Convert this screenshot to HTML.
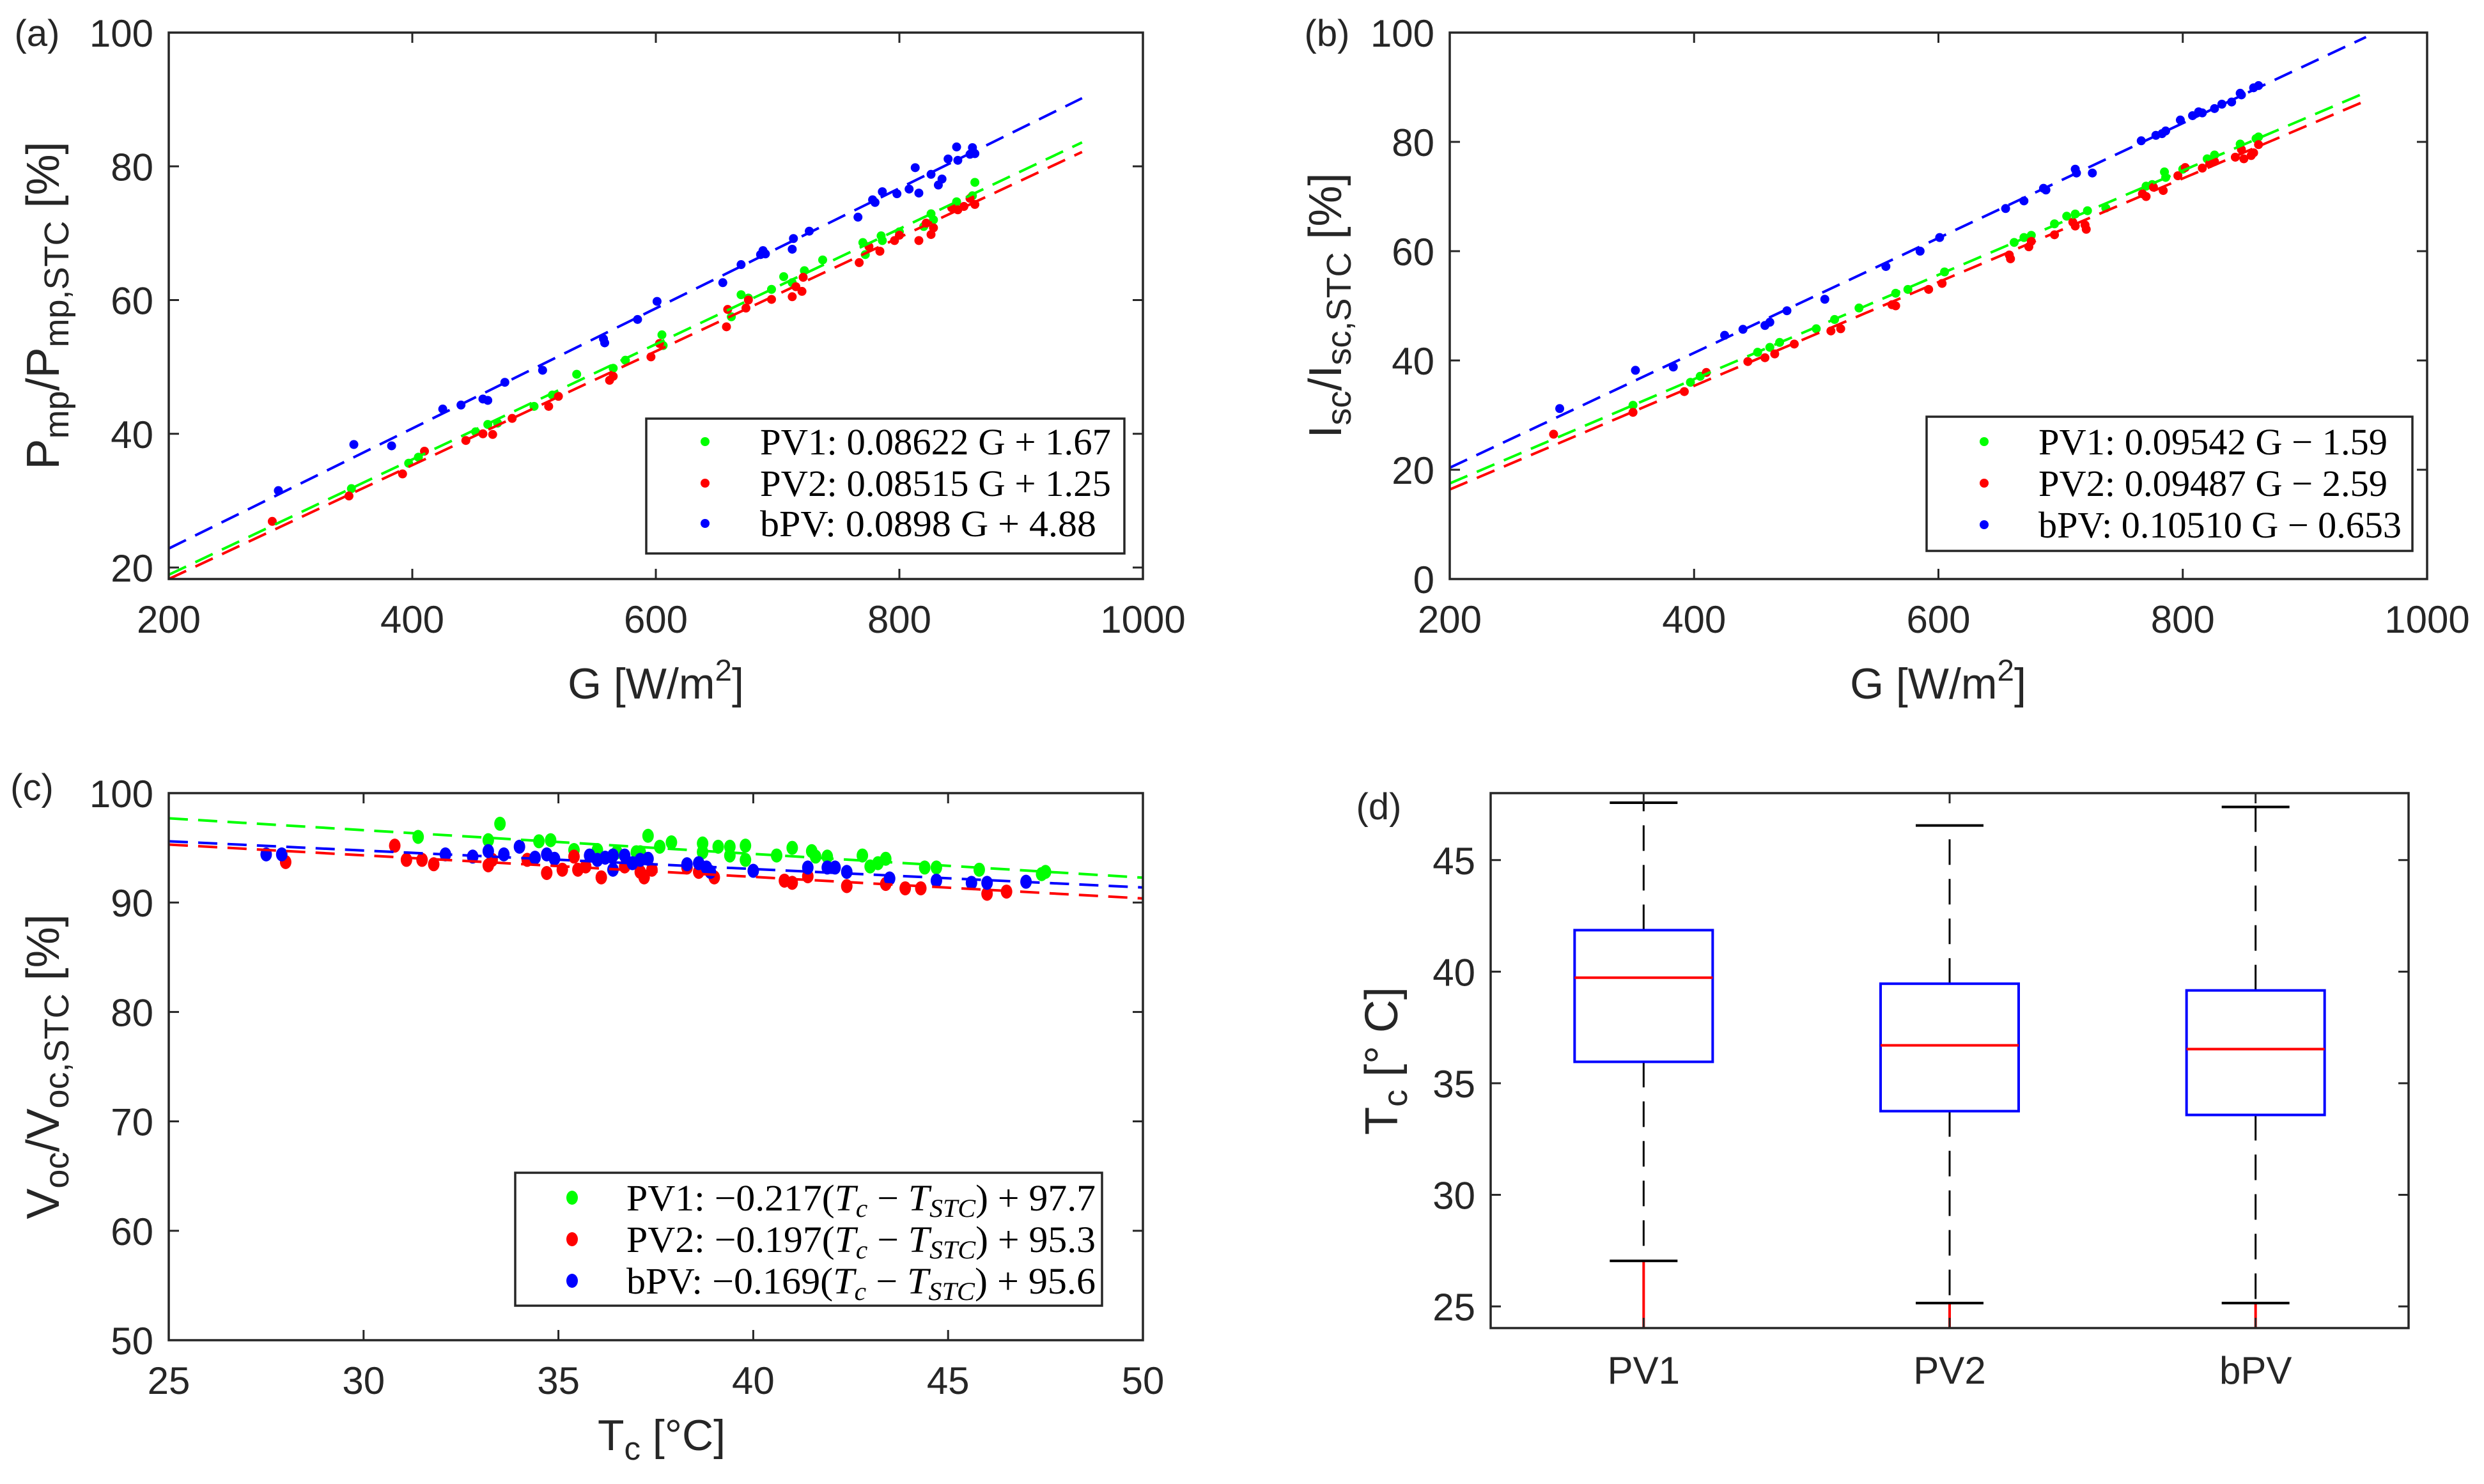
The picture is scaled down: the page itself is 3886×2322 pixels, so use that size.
<!DOCTYPE html>
<html><head><meta charset="utf-8"><style>
html,body{margin:0;padding:0;background:#fff;}
svg{display:block;}
text{font-family:"Liberation Sans",sans-serif;fill:#262626;}
.lg{font-family:"Liberation Serif",serif;fill:#000;}
</style></head><body>
<svg id="fig" width="3886" height="2322" viewBox="0 0 3886 2322" xmlns="http://www.w3.org/2000/svg">
<defs>
<clipPath id="clipA"><rect x="264" y="51" width="1524" height="855"/></clipPath>
<clipPath id="clipB"><rect x="2268" y="51" width="1529" height="855"/></clipPath>
<clipPath id="clipC"><rect x="264" y="1241" width="1524" height="856"/></clipPath>
</defs>
</svg>
<script>
// ---- Panel (a) data ----
const aG1=[350,397,405,452,462,470,500,515,535,565,575,605,606,662,670,676,695,705,712,722,737,770,772,785,786,800,820,826,828,847,860,862];
const aV1=[31.8,35.6,36.5,40.3,41.4,41.6,44.1,45.8,48.9,49.8,51.0,54.8,53.2,57.5,60.8,60.3,61.6,63.5,62.6,64.4,66.0,68.6,66.8,69.6,68.9,70.2,71.0,72.9,72.0,74.7,75.6,77.6];
const aG2=[285,348,392,410,444,458,466,482,512,520,562,565,596,603,658,659,674,676,695,712,715,720,721,767,775,784,796,800,816,822,826,828,843,848,853,858,862];
const aV2=[26.9,30.7,34.0,37.4,39.0,40.0,39.9,42.3,44.1,45.6,48.0,48.6,51.5,53.5,56.0,58.6,58.8,60.0,60.1,60.5,62.0,61.3,63.4,65.6,68.0,67.3,68.9,69.7,68.9,71.5,69.8,70.8,73.8,73.5,74.0,75.2,74.3];
const aG3=[290,352,383,425,440,458,462,476,507,557,558,585,601,655,670,686,688,690,712,713,726,766,778,780,786,798,808,813,816,826,832,835,840,847,848,858,860,862];
const aV3=[31.5,38.4,38.2,43.7,44.3,45.2,45.0,47.7,49.5,54.2,53.6,57.1,59.8,62.6,65.3,66.8,67.4,66.9,67.6,69.2,70.3,72.4,75.0,74.6,76.2,75.9,76.6,79.8,76.0,78.8,77.2,78.1,81.1,82.9,80.9,81.8,82.8,81.9];
const aSlope=[0.08622,0.08515,0.0898];
const aInt=[1.67,1.25,4.88];
const aLegend=["PV1: 0.08622 G + 1.67","PV2: 0.08515 G + 1.25","bPV: 0.0898 G + 4.88"];
const aXTicks=[200,400,600,800,1000];
const aYTicks=[20,40,60,80,100];
// ---- Panel (b) data ----
const bG1=[350,397,405,452,462,470,500,515,535,565,575,605,662,670,676,695,705,712,722,737,770,775,785,786,800,820,826,847,860,862];
const bV1=[31.8,36.0,37.1,41.5,42.4,43.3,45.8,47.5,49.6,52.3,53.0,56.2,61.6,62.5,62.9,65.0,66.4,66.8,67.4,67.9,71.9,72.2,74.5,73.5,75.0,76.9,77.6,79.6,80.6,80.9];
const bG2=[285,350,392,410,444,458,466,482,512,520,562,565,592,603,658,659,674,676,695,710,712,720,721,767,770,776,784,796,802,816,822,826,843,848,850,856,858,862];
const bV2=[26.5,30.5,34.3,37.8,39.8,40.5,41.2,43.0,45.4,45.8,50.2,50.0,53.0,54.1,59.3,58.6,60.8,61.8,63.0,65.3,64.6,64.8,64.0,70.5,70.0,71.7,71.1,73.8,75.3,75.2,76.0,76.4,77.2,78.6,76.9,77.5,78.0,79.5];
const bG3=[290,352,383,425,440,458,462,476,507,557,585,601,655,670,686,688,712,713,726,766,778,783,786,798,808,813,816,826,832,840,847,848,858,862];
const bV3=[31.2,38.2,38.8,44.6,45.7,46.4,47.0,49.1,51.2,57.2,60.0,62.5,67.8,69.2,71.5,71.2,75.0,74.3,74.3,80.2,81.2,81.5,82.0,84.0,84.8,85.5,85.3,86.1,86.9,87.3,88.9,88.6,89.9,90.3];
const bSlope=[0.09542,0.09487,0.10510];
const bInt=[-1.59,-2.59,-0.653];
const bLegend=["PV1: 0.09542 G \u2212 1.59","PV2: 0.09487 G \u2212 2.59","bPV: 0.10510 G \u2212 0.653"];
const bYTicks=[0,20,40,60,80,100];
// ---- Panel (c) data ----
const cT1=[31.4,33.2,33.5,34.5,34.8,35.4,36.0,36.5,37.0,37.1,37.3,37.6,37.9,38.7,38.7,39.1,39.4,39.4,39.8,39.8,40.6,41.0,41.5,41.6,41.9,42.8,43.0,43.2,43.4,44.4,44.7,45.8,47.4,47.5];
const cV1=[96.0,95.7,97.2,95.6,95.7,94.8,94.8,94.6,94.6,94.6,96.1,95.1,95.5,95.4,94.6,95.1,95.1,94.3,95.2,93.9,94.3,95.0,94.7,94.2,94.2,94.3,93.3,93.6,94.0,93.2,93.2,93.0,92.6,92.8];
const cT2=[28.0,30.8,31.1,31.5,31.8,33.2,33.3,34.2,34.7,35.1,35.4,35.5,35.7,36.1,36.7,37.1,37.2,37.4,38.3,38.6,39.0,40.8,41.0,41.4,42.4,43.4,43.9,44.3,46.0,46.5];
const cV2=[93.7,95.2,93.9,93.9,93.5,93.4,93.9,93.9,92.7,93.0,94.2,93.0,93.3,92.3,93.3,92.8,92.3,93.0,93.2,92.8,92.3,92.0,91.8,92.4,91.5,91.7,91.3,91.3,90.8,91.0];
const cT3=[27.5,27.9,32.1,32.8,33.2,33.6,34.0,34.4,34.7,34.9,35.8,36.0,36.2,36.4,36.4,36.7,36.9,37.1,37.3,38.3,38.6,38.8,38.9,40.0,41.4,41.9,42.1,42.4,43.5,44.7,45.6,46.0,47.0];
const cV3=[94.4,94.4,94.4,94.2,94.7,94.4,95.1,94.1,94.4,94.0,94.3,93.9,94.1,94.3,93.0,94.3,93.6,93.9,94.0,93.5,93.6,93.2,92.8,92.9,93.2,93.2,93.2,92.8,92.2,92.0,91.8,91.8,91.9];
const cSlope=[-0.217,-0.197,-0.169];
const cInt=[97.7,95.3,95.6];
const cLabels=["PV1:","PV2:","bPV:"];
const cCoef=["\u22120.217","\u22120.197","\u22120.169"];
const cConst=["97.7","95.3","95.6"];
const cXTicks=[25,30,35,40,45,50];
const cYTicks=[50,60,70,80,90,100];
// ---- Panel (d) data ----
const dCats=["PV1","PV2","bPV"];
const dQ1=[35.96,33.75,33.58];
const dMed=[39.73,36.70,36.53];
const dQ3=[41.86,39.46,39.16];
const dUpper=[47.57,46.55,47.38];
const dLower=[27.04,25.15,25.15];
const dYTicks=[25,30,35,40,45];

const svg=document.getElementById('fig');
const NS='http://www.w3.org/2000/svg';
function mk(tag,attrs,parent){const e=document.createElementNS(NS,tag);for(const k in attrs)e.setAttribute(k,attrs[k]);(parent||svg).appendChild(e);return e;}
const COLS=['#00ff00','#ff0000','#0000ff'];
const AX='#262626';

function axisBox(g,L,R,T,B){
  const r=mk('rect',{x:L,y:T,width:R-L,height:B-T,fill:'none',stroke:AX,'stroke-width':3.5},g);
  
  
}
function xTicks(g,ticks,sx,T,B){
  ticks.forEach(t=>{
    const x=sx(t);
    const l1=mk('line',{x1:x,x2:x,y1:B,y2:B-16,stroke:AX,'stroke-width':3},g);
    
    
    const l2=mk('line',{x1:x,x2:x,y1:T,y2:T+16,stroke:AX,'stroke-width':3},g);
    
    
    const tx=mk('text',{x:x,y:B+84,'text-anchor':'middle','font-size':60},g);
    tx.textContent=String(t);
    
    
  });
}
function yTicks(g,ticks,sy,L,R){
  ticks.forEach(t=>{
    const y=sy(t);
    const l1=mk('line',{x1:L,x2:L+16,y1:y,y2:y,stroke:AX,'stroke-width':3},g);
    
    
    const l2=mk('line',{x1:R,x2:R-16,y1:y,y2:y,stroke:AX,'stroke-width':3},g);
    
    
    const tx=mk('text',{x:L-24,y:y+22,'text-anchor':'end','font-size':60},g);
    tx.textContent=String(t);
    
    
  });
}
function dots(g,xs,ys,sx,sy,color,rx,ry,name){
  xs.forEach((v,i)=>{
    const c=mk('ellipse',{cx:sx(v),cy:sy(ys[i]),rx:rx,ry:ry,fill:color},g);
    
    
  });
}
function fitLine(g,x0,x1,f,sx,sy,color,clip,name){
  const l=mk('line',{x1:sx(x0),y1:sy(f(x0)),x2:sx(x1),y2:sy(f(x1)),stroke:color,'stroke-width':4,'stroke-dasharray':'30 16','clip-path':'url(#'+clip+')'},g);
  
  
}
function label(g,x,y,txt,name,size,rot){
  const t=mk('text',{x:x,y:y,'text-anchor':'middle','font-size':size||64},g);
  if(rot)t.setAttribute('transform','rotate(-90 '+x+' '+y+')');
  if(txt)t.textContent=txt;
  
  
  return t;
}
function sub(t,main,s,after){
  t.appendChild(document.createTextNode(main));
  const ts=mk('tspan',{'font-size':'0.75em',dy:15},t);ts.textContent=s;
  const ts2=mk('tspan',{dy:-15},t);ts2.textContent=after;
  return ts2;
}
function legendBox(g,x,y,w,h){
  const r=mk('rect',{x:x,y:y,width:w,height:h,fill:'#fff',stroke:AX,'stroke-width':3.5},g);
  
  
}

// ===== Panel (a) =====
(function(){
  const L=264,R=1788,T=51,B=906;
  const sx=v=>L+(v-200)/800*(R-L);
  const sy=v=>888-(v-20)/80*(888-51);
  const g=mk('g',{});
  const pG=[aG1,aG2,aG3],pV=[aV1,aV2,aV3];
  for(let s=0;s<3;s++) dots(g,pG[s],pV[s],sx,sy,COLS[s],7,7,'point-series-'+(s+1));
  for(let s=0;s<3;s++) fitLine(g,200,950,x=>aSlope[s]*x+aInt[s],sx,sy,COLS[s],'clipA','fit-line-'+(s+1));
  axisBox(g,L,R,T,B);
  xTicks(g,aXTicks,sx,T,B);yTicks(g,aYTicks,sy,L,R);
  legendBox(g,1011,655,748,211);
  const ly=[691,756,819];
  for(let s=0;s<3;s++){
    const c=mk('ellipse',{cx:1103,cy:ly[s],rx:7,ry:7,fill:COLS[s]},g);
    
    const t=mk('text',{x:1189,y:ly[s]+20,'font-size':58,class:'lg',textLength:s==2?526:549,lengthAdjust:'spacingAndGlyphs'},g);
    t.textContent=aLegend[s];
    
  }
  const xl=label(g,1026,1093,'','x-axis-title',68);
  xl.appendChild(document.createTextNode('G [W/m'));
  const sp=mk('tspan',{'font-size':'0.7em',dy:-28},xl);sp.textContent='2';
  const sp2=mk('tspan',{dy:28},xl);sp2.textContent=']';
  const yl=label(g,92,478,'','y-axis-title',72,true);
  sub(yl,'P','mp','/P');
  const ts=mk('tspan',{'font-size':'0.75em',dy:15},yl);ts.textContent='mp,STC';
  const ts2=mk('tspan',{dy:-15},yl);ts2.textContent=' [%]';
  label(g,58,72,'(a)','panel-label-a',58);
})();

// ===== Panel (b) =====
(function(){
  const L=2268,R=3797,T=51,B=906;
  const sx=v=>L+(v-200)/800*(R-L);
  const sy=v=>B-v/100*(B-T);
  const g=mk('g',{});
  const pG=[bG1,bG2,bG3],pV=[bV1,bV2,bV3];
  for(let s=0;s<3;s++) dots(g,pG[s],pV[s],sx,sy,COLS[s],7,7,'point-series-'+(s+1));
  for(let s=0;s<3;s++) fitLine(g,200,950,x=>bSlope[s]*x+bInt[s],sx,sy,COLS[s],'clipB','fit-line-'+(s+1));
  axisBox(g,L,R,T,B);
  xTicks(g,aXTicks,sx,T,B);yTicks(g,bYTicks,sy,L,R);
  legendBox(g,3014,652,760,210);
  const ly=[691,756,821];
  for(let s=0;s<3;s++){
    const c=mk('ellipse',{cx:3104,cy:ly[s],rx:7,ry:7,fill:COLS[s]},g);
    
    const t=mk('text',{x:3189,y:ly[s]+20,'font-size':58,class:'lg',textLength:s==2?568:546,lengthAdjust:'spacingAndGlyphs'},g);
    t.textContent=bLegend[s];
    
  }
  const xl=label(g,3032,1093,'','x-axis-title',68);
  xl.appendChild(document.createTextNode('G [W/m'));
  const sp=mk('tspan',{'font-size':'0.7em',dy:-28},xl);sp.textContent='2';
  const sp2=mk('tspan',{dy:28},xl);sp2.textContent=']';
  const yl=label(g,2098,478,'','y-axis-title',72,true);
  sub(yl,'I','sc','/I');
  const ts=mk('tspan',{'font-size':'0.75em',dy:15},yl);ts.textContent='sc,STC';
  const ts2=mk('tspan',{dy:-15},yl);ts2.textContent=' [%]';
  label(g,2076,72,'(b)','panel-label-b',58);
})();

// ===== Panel (c) =====
(function(){
  const L=264,R=1788,T=1241,B=2097;
  const sx=v=>L+(v-25)/25*(R-L);
  const sy=v=>B-(v-50)/50*(B-T);
  const g=mk('g',{});
  const pT=[cT1,cT2,cT3],pV=[cV1,cV2,cV3];
  for(let s=0;s<3;s++) dots(g,pT[s],pV[s],sx,sy,COLS[s],9,11,'point-series-'+(s+1));
  for(let s=0;s<3;s++) fitLine(g,25,50,x=>cSlope[s]*(x-25)+cInt[s],sx,sy,COLS[s],'clipC','fit-line-'+(s+1));
  axisBox(g,L,R,T,B);
  xTicks(g,cXTicks,sx,T,B);yTicks(g,cYTicks,sy,L,R);
  legendBox(g,806,1835,918,208);
  const ly=[1874,1939,2004];
  for(let s=0;s<3;s++){
    const c=mk('ellipse',{cx:895,cy:ly[s],rx:9,ry:11,fill:COLS[s]},g);
    
    const t=mk('text',{x:980,y:ly[s]+20,'font-size':58,class:'lg',textLength:734,lengthAdjust:'spacingAndGlyphs'},g);
    
    t.appendChild(document.createTextNode(cLabels[s]+' '+cCoef[s]+'('));
    const a=mk('tspan',{'font-style':'italic'},t);a.textContent='T';
    const b=mk('tspan',{'font-style':'italic','font-size':'0.7em',dy:10},t);b.textContent='c';
    const c2=mk('tspan',{dy:-10},t);c2.textContent=' \u2212 ';
    const d=mk('tspan',{'font-style':'italic'},t);d.textContent='T';
    const e=mk('tspan',{'font-style':'italic','font-size':'0.7em',dy:10},t);e.textContent='STC';
    const f=mk('tspan',{dy:-10},t);f.textContent=') + '+cConst[s];
  }
  const xl=label(g,1035,2269,'','x-axis-title',68);
  sub(xl,'T','c',' [\u00b0C]');
  const yl=label(g,92,1669,'','y-axis-title',72,true);
  sub(yl,'V','oc','/V');
  const ts=mk('tspan',{'font-size':'0.75em',dy:15},yl);ts.textContent='oc,STC';
  const ts2=mk('tspan',{dy:-15},yl);ts2.textContent=' [%]';
  label(g,50,1252,'(c)','panel-label-c',58);
})();

// ===== Panel (d) =====
(function(){
  const L=2332,R=3768,T=1241,B=2078;
  const y0=24.03,y1=48.0;
  const sy=v=>B-(v-y0)/(y1-y0)*(B-T);
  const g=mk('g',{});
  const hw=108,cw=53;
  dCats.forEach((c,i)=>{
    const X=L+(R-L)*(i*2+1)/6;
    const w1=mk('line',{x1:X,x2:X,y1:sy(dQ3[i]),y2:sy(dUpper[i]),stroke:'#000','stroke-width':3,'stroke-dasharray':'40 22'},g);
    
    const w2=mk('line',{x1:X,x2:X,y1:sy(dQ1[i]),y2:sy(dLower[i]),stroke:'#000','stroke-width':3,'stroke-dasharray':'40 22'},g);
    
    const o=mk('line',{x1:X,x2:X,y1:sy(dLower[i]),y2:B,stroke:'#ff0000','stroke-width':4},g);
    
    const cu=mk('line',{x1:X-cw,x2:X+cw,y1:sy(dUpper[i]),y2:sy(dUpper[i]),stroke:'#000','stroke-width':4},g);
    
    const cl=mk('line',{x1:X-cw,x2:X+cw,y1:sy(dLower[i]),y2:sy(dLower[i]),stroke:'#000','stroke-width':4},g);
    
    const bx=mk('rect',{x:X-hw,y:sy(dQ3[i]),width:2*hw,height:sy(dQ1[i])-sy(dQ3[i]),fill:'none',stroke:'#0000ff','stroke-width':4},g);
    
    const md=mk('line',{x1:X-hw,x2:X+hw,y1:sy(dMed[i]),y2:sy(dMed[i]),stroke:'#ff0000','stroke-width':4},g);
    
    const tl=mk('line',{x1:X,x2:X,y1:B,y2:B-16,stroke:AX,'stroke-width':3},g);
    
    const tt=mk('line',{x1:X,x2:X,y1:T,y2:T+16,stroke:AX,'stroke-width':3},g);
    
    const lb=mk('text',{x:X,y:2165,'text-anchor':'middle','font-size':60},g);
    lb.textContent=c;
    
  });
  axisBox(g,L,R,T,B);
  yTicks(g,dYTicks,sy,L,R);
  const yl=label(g,2186,1660,'','y-axis-title',72,true);
  sub(yl,'T','c',' [\u00b0 C]');
  label(g,2157,1282,'(d)','panel-label-d',58);
})();
</script>
</body></html>
